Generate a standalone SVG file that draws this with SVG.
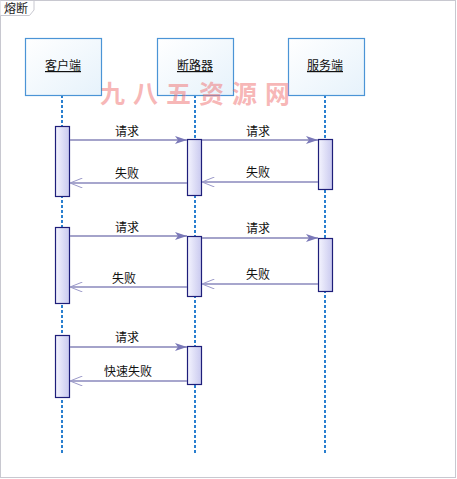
<svg xmlns="http://www.w3.org/2000/svg" width="457" height="479" viewBox="0 0 457 479">
<defs>
<linearGradient id="hd" x1="0" y1="0" x2="1" y2="1"><stop offset="0" stop-color="#ffffff"/><stop offset="1" stop-color="#e6f2fb"/></linearGradient>
<linearGradient id="act" x1="0" y1="0" x2="1" y2="0"><stop offset="0" stop-color="#f4f4fe"/><stop offset="1" stop-color="#c9c9ef"/></linearGradient>
<marker id="fill" viewBox="0 0 12 8" refX="12" refY="4" markerWidth="12" markerHeight="8" markerUnits="userSpaceOnUse" orient="auto"><path d="M0,0 L12,4 L0,8 L3,4 Z" fill="#7a78b8"/></marker>
<marker id="open" viewBox="0 0 13 10" refX="12.5" refY="5" markerWidth="13" markerHeight="10" markerUnits="userSpaceOnUse" orient="auto"><path d="M0,0 L12.5,5 L0,10" fill="none" stroke="#9a98c8" stroke-width="1"/></marker>
</defs>
<style>
.head{fill:url(#hd);stroke:#4b94d6;stroke-width:1.2}
.hl{font-family:"Noto Sans CJK SC","Liberation Sans",sans-serif;font-size:12px;fill:#111;text-anchor:middle;text-decoration:underline}
.life{stroke:#2a7fcf;stroke-width:2;stroke-dasharray:3 2;fill:none}
.act{fill:url(#act);stroke:#1e1e7a;stroke-width:1.2}
.req{stroke:#8684b8;stroke-width:1.5;fill:none;marker-end:url(#fill)}
.ret{stroke:#8a88bc;stroke-width:1.5;fill:none;marker-end:url(#open)}
.lbl{font-family:"Noto Sans CJK SC","Liberation Sans",sans-serif;font-size:12px;fill:#111;text-anchor:middle}
</style>
<rect x="0.5" y="0.5" width="455" height="477" fill="#ffffff" stroke="#c8c8d0" stroke-width="1"/>
<g id="title">
<path d="M0.5,0.5 L34,0.5 L34,10 L29.5,15.5 L0.5,15.5" fill="#ffffff" stroke="#c8c8d0"/>
<text x="4" y="12.5" font-family="Noto Sans CJK SC,Liberation Sans,sans-serif" font-size="12" fill="#222">熔断</text>
</g>
<g id="connectors">
<line class="life" x1="62" y1="95" x2="62" y2="453"/>
<line class="life" x1="195" y1="95" x2="195" y2="453"/>
<line class="life" x1="325" y1="95" x2="325" y2="453"/>
</g>
<g id="client">
<rect class="head" x="25.5" y="38.5" width="76" height="57"/>
<text class="hl" x="63" y="70">客户端</text>
</g>
<g id="breaker">
<rect class="head" x="157.5" y="38.5" width="76" height="57"/>
<text class="hl" x="195" y="70">断路器</text>
</g>
<g id="server">
<rect class="head" x="288.5" y="38.5" width="76" height="57"/>
<text class="hl" x="325" y="70">服务端</text>
</g>
<g id="activations">
<rect class="act" x="55.5" y="126.5" width="14" height="70"/>
<rect class="act" x="187.5" y="139.5" width="14" height="56"/>
<rect class="act" x="318.5" y="139.5" width="14" height="50"/>
<rect class="act" x="55.5" y="227.5" width="14" height="76"/>
<rect class="act" x="187.5" y="236.5" width="14" height="60"/>
<rect class="act" x="318.5" y="238.5" width="14" height="53"/>
<rect class="act" x="55.5" y="335.5" width="14" height="62"/>
<rect class="act" x="187.5" y="346.5" width="14" height="38"/>
</g>
<g id="messages">
<line class="req" x1="70" y1="140" x2="187" y2="140"/>
<text class="lbl" x="127" y="136">请求</text>
<line class="req" x1="202" y1="140" x2="318" y2="140"/>
<text class="lbl" x="258" y="136">请求</text>
<line class="ret" x1="187" y1="183" x2="70" y2="183"/>
<text class="lbl" x="127" y="178">失败</text>
<line class="ret" x1="318" y1="182" x2="202" y2="182"/>
<text class="lbl" x="258" y="177">失败</text>
<line class="req" x1="70" y1="236" x2="187" y2="236"/>
<text class="lbl" x="127" y="232">请求</text>
<line class="req" x1="202" y1="238" x2="318" y2="238"/>
<text class="lbl" x="258" y="233">请求</text>
<line class="ret" x1="187" y1="287" x2="70" y2="287"/>
<text class="lbl" x="124" y="283">失败</text>
<line class="ret" x1="318" y1="284" x2="202" y2="284"/>
<text class="lbl" x="258" y="279">失败</text>
<line class="req" x1="70" y1="347" x2="187" y2="347"/>
<text class="lbl" x="127" y="342">请求</text>
<line class="ret" x1="187" y1="381" x2="70" y2="381"/>
<text class="lbl" x="128" y="376">快速失败</text>
</g>
<text x="199" y="103" text-anchor="middle" font-family="Noto Sans CJK SC,sans-serif" font-size="25" font-weight="bold" letter-spacing="8" fill="#f07070" fill-opacity="0.5">九八五资源网</text>
</svg>
